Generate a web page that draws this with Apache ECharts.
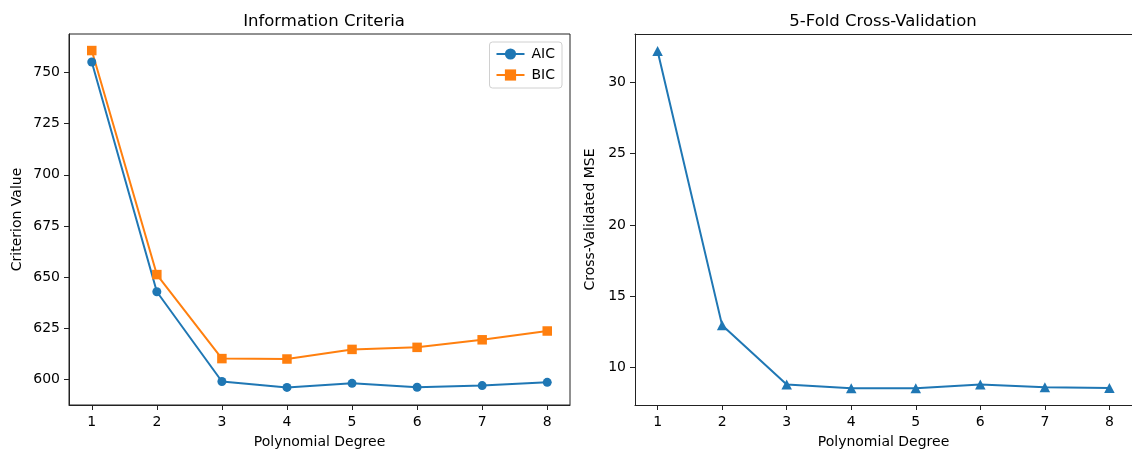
<!DOCTYPE html>
<html>
<head>
<meta charset="utf-8">
<script src="https://cdn.jsdelivr.net/npm/echarts@6/dist/echarts.min.js"></script>
<style>
    html, body { margin: 0; padding: 0; background: #fff; }
    #main { width: 1132px; height: 454px; }
</style>
</head>
<body>
<div id="main"></div>
<script>
// 多项式阶数
let degrees = [1, 2, 3, 4, 5, 6, 7, 8];
// 信息准则
let aic = [755.2, 642.8, 598.9, 596.0, 598.0, 596.1, 596.9, 598.5];
let bic = [760.8, 651.2, 610.1, 609.9, 614.6, 615.6, 619.3, 623.6];
// 5 折交叉验证 MSE
let cvMse = [32.2, 12.95, 8.8, 8.53, 8.53, 8.8, 8.6, 8.56];
// 刻度
let leftTicks = [600, 625, 650, 675, 700, 725, 750];
let rightTicks = [10, 15, 20, 25, 30];

function pairs(ys) {
    return degrees.map(function (d, i) { return [d, ys[i]]; });
}

let font = 'DejaVu Sans';
let blue = '#1f77b4';
let orange = '#ff7f0e';

function xAxisOpt(gridIndex) {
    return {
        type: 'value',
        gridIndex: gridIndex,
        min: 0.65,
        max: 8.35,
        name: 'Polynomial Degree',
        nameLocation: 'middle',
        nameGap: 30,
        nameTextStyle: {color: '#000', fontSize: 14, fontFamily: font},
        axisLine: {show: true, lineStyle: {color: '#222', width: 1}},
        axisTick: {show: true, length: 5, customValues: degrees, lineStyle: {color: '#222', width: 1}},
        axisLabel: {customValues: degrees, margin: 10, color: '#000', fontSize: 14, fontFamily: font},
        splitLine: {show: false}
    };
}

function yAxisOpt(gridIndex, min, max, ticks, name, gap) {
    return {
        type: 'value',
        gridIndex: gridIndex,
        min: min,
        max: max,
        name: name,
        nameLocation: 'middle',
        nameRotate: 90,
        nameGap: gap,
        nameTextStyle: {color: '#000', fontSize: 14, fontFamily: font},
        axisLine: {show: true, lineStyle: {color: '#222', width: 1}},
        axisTick: {show: true, length: 5, customValues: ticks, lineStyle: {color: '#222', width: 1}},
        axisLabel: {customValues: ticks, margin: 9, color: '#000', fontSize: 14, fontFamily: font},
        splitLine: {show: false}
    };
}

let myChart = echarts.init(document.getElementById('main'), null, {renderer: 'canvas'});
let option = {
    backgroundColor: '#fff',
    animation: false,
    title: [
        {
            text: 'Information Criteria',
            left: 319, top: 8, textAlign: 'center',
            textStyle: {color: '#000', fontSize: 16.5, fontWeight: 'normal', fontFamily: font}
        },
        {
            text: '5-Fold Cross-Validation',
            left: 878, top: 8, textAlign: 'center',
            textStyle: {color: '#000', fontSize: 16.5, fontWeight: 'normal', fontFamily: font}
        }
    ],
    legend: {
        data: ['AIC', 'BIC'],
        orient: 'vertical',
        top: 42,
        right: 1132 - 562,
        padding: [5, 7, 6, 6],
        itemWidth: 28,
        itemHeight: 14,
        itemGap: 7,
        borderColor: '#d0d0d0',
        borderWidth: 1,
        borderRadius: 3,
        backgroundColor: 'rgba(255,255,255,0.8)',
        textStyle: {color: '#000', fontSize: 14, fontFamily: font, padding: [0, 0, 0, 2]}
    },
    grid: [
        {left: 69, top: 34, width: 501, height: 375, show: true, borderColor: '#222', borderWidth: 1, backgroundColor: 'transparent'},
        // 右图右边框被裁掉，只画左、下、上三条边
        {left: 635, top: 34, width: 499, height: 375, show: false}
    ],
    xAxis: [
        xAxisOpt(0),
        xAxisOpt(1),
        {
            type: 'value', gridIndex: 1, position: 'top', min: 0.65, max: 8.35,
            axisLine: {show: true, lineStyle: {color: '#222', width: 1}},
            axisTick: {show: false}, axisLabel: {show: false}, splitLine: {show: false}
        }
    ],
    yAxis: [
        yAxisOpt(0, 587.4, 768.9, leftTicks, 'Criterion Value', 45),
        yAxisOpt(1, 7.36, 33.4, rightTicks, 'Cross-Validated MSE', 38)
    ],
    series: [
        {
            name: 'AIC', type: 'line', xAxisIndex: 0, yAxisIndex: 0,
            data: pairs(aic),
            symbol: 'circle', symbolSize: 9,
            lineStyle: {color: blue, width: 2},
            itemStyle: {color: blue}
        },
        {
            name: 'BIC', type: 'line', xAxisIndex: 0, yAxisIndex: 0,
            data: pairs(bic),
            symbol: 'rect', symbolSize: 9.5,
            lineStyle: {color: orange, width: 2},
            itemStyle: {color: orange}
        },
        {
            name: 'CV', type: 'line', xAxisIndex: 1, yAxisIndex: 1,
            data: pairs(cvMse),
            symbol: 'triangle', symbolSize: [10.5, 10],
            lineStyle: {color: blue, width: 2},
            itemStyle: {color: blue}
        }
    ]
};
myChart.setOption(option);
</script>
</body>
</html>
